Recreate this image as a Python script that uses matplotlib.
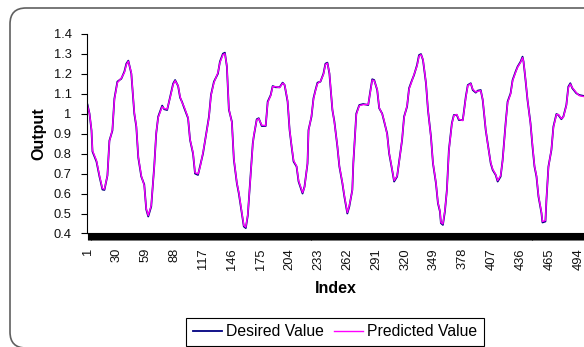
import numpy as np
import matplotlib
matplotlib.use("Agg")
import matplotlib.pyplot as plt
from matplotlib.patches import FancyBboxPatch

plt.rcParams['font.family'] = ['Liberation Sans', 'DejaVu Sans']

# sample index of each reading
index = [1, 3, 5, 6, 10, 13, 16, 18, 21, 23, 26, 28, 31, 35, 38, 40, 42, 45, 48, 50,
         52, 55, 58, 60, 62, 65, 68, 70, 72, 76, 78, 81, 84, 87, 89, 92, 94, 96, 98, 102,
         104, 107, 109, 112, 114, 117, 120, 123, 125, 128, 132, 134, 137, 139, 141, 143, 146, 148, 151, 153,
         156, 158, 160, 162, 164, 167, 168, 171, 173, 176, 180, 182, 185, 187, 190, 194, 197, 199, 202, 204,
         206, 208, 211, 213, 217, 219, 222, 223, 226, 228, 230, 232, 235, 238, 240, 242, 244, 247, 249, 252,
         254, 257, 259, 262, 264, 267, 268, 271, 274, 278, 283, 285, 287, 289, 292, 294, 297, 299, 302, 304,
         307, 309, 312, 314, 317, 319, 322, 324, 327, 329, 332, 334, 336, 338, 341, 343, 346, 348, 351, 353,
         355, 356, 358, 360, 362, 364, 367, 369, 372, 374, 378, 381, 383, 386, 388, 391, 393, 396, 398, 401,
         403, 406, 408, 411, 413, 416, 418, 421, 423, 426, 428, 431, 433, 436, 438, 439, 441, 443, 446, 448,
         450, 452, 454, 457, 458, 461, 462, 464, 467, 469, 472, 474, 477, 479, 482, 484, 486, 488, 492, 495,
         500]

desired = [1.045, 1.00, 0.915, 0.81, 0.76, 0.685, 0.62, 0.618, 0.69, 0.865, 0.915, 1.075, 1.16, 1.175, 1.21, 1.25, 1.265, 1.20, 1.00, 0.935,
           0.78, 0.685, 0.645, 0.52, 0.485, 0.535, 0.735, 0.90, 0.985, 1.04, 1.022, 1.018, 1.085, 1.15, 1.168, 1.138, 1.08, 1.058, 1.03, 0.977,
           0.868, 0.80, 0.70, 0.693, 0.735, 0.80, 0.893, 0.985, 1.093, 1.16, 1.20, 1.26, 1.30, 1.305, 1.235, 1.02, 0.96, 0.77, 0.652, 0.60,
           0.50, 0.435, 0.427, 0.49, 0.635, 0.85, 0.885, 0.972, 0.977, 0.938, 0.938, 1.06, 1.093, 1.138, 1.132, 1.132, 1.155, 1.143, 1.06, 0.918,
           0.835, 0.76, 0.735, 0.66, 0.60, 0.635, 0.75, 0.918, 0.985, 1.077, 1.118, 1.155, 1.16, 1.20, 1.25, 1.255, 1.20, 1.018, 0.96, 0.835,
           0.735, 0.652, 0.585, 0.50, 0.535, 0.618, 0.75, 1.00, 1.043, 1.048, 1.043, 1.11, 1.172, 1.168, 1.118, 1.027, 1.00, 0.96, 0.90, 0.80,
           0.718, 0.66, 0.685, 0.76, 0.868, 0.985, 1.035, 1.127, 1.168, 1.193, 1.243, 1.293, 1.298, 1.268, 1.152, 1.018, 0.885, 0.752, 0.652, 0.552,
           0.51, 0.452, 0.443, 0.51, 0.618, 0.818, 0.952, 0.993, 0.993, 0.968, 0.968, 1.085, 1.143, 1.152, 1.118, 1.105, 1.115, 1.118, 1.068, 0.918,
           0.852, 0.752, 0.718, 0.693, 0.66, 0.685, 0.768, 0.952, 1.06, 1.102, 1.168, 1.21, 1.235, 1.26, 1.285, 1.26, 1.168, 1.068, 0.952, 0.835,
           0.735, 0.685, 0.585, 0.502, 0.455, 0.46, 0.568, 0.735, 0.818, 0.935, 0.998, 0.993, 0.972, 0.985, 1.043, 1.135, 1.152, 1.127, 1.102, 1.093,
           1.088]

predicted = [1.040, 1.00, 0.920, 0.815, 0.765, 0.690, 0.625, 0.622, 0.69, 0.860, 0.920, 1.070, 1.155, 1.178, 1.205, 1.245, 1.262, 1.205, 1.005, 0.940,
             0.785, 0.690, 0.640, 0.525, 0.490, 0.540, 0.730, 0.905, 0.980, 1.035, 1.025, 1.022, 1.080, 1.145, 1.165, 1.140, 1.085, 1.055, 1.035, 0.980,
             0.870, 0.805, 0.705, 0.698, 0.730, 0.805, 0.890, 0.980, 1.090, 1.155, 1.205, 1.255, 1.295, 1.300, 1.240, 1.025, 0.955, 0.775, 0.655, 0.605,
             0.505, 0.440, 0.432, 0.495, 0.630, 0.845, 0.890, 0.968, 0.975, 0.942, 0.940, 1.055, 1.090, 1.135, 1.135, 1.130, 1.152, 1.145, 1.065, 0.922,
             0.838, 0.765, 0.738, 0.665, 0.605, 0.630, 0.755, 0.912, 0.990, 1.072, 1.115, 1.150, 1.162, 1.196, 1.246, 1.252, 1.205, 1.022, 0.955, 0.840,
             0.738, 0.656, 0.590, 0.505, 0.540, 0.615, 0.755, 0.995, 1.040, 1.045, 1.046, 1.105, 1.168, 1.165, 1.122, 1.030, 0.998, 0.965, 0.895, 0.805,
             0.722, 0.665, 0.688, 0.755, 0.872, 0.980, 1.040, 1.122, 1.165, 1.196, 1.238, 1.288, 1.295, 1.272, 1.155, 1.022, 0.880, 0.756, 0.656, 0.556,
             0.515, 0.456, 0.448, 0.515, 0.612, 0.812, 0.948, 0.990, 0.996, 0.972, 0.965, 1.080, 1.140, 1.150, 1.122, 1.108, 1.112, 1.115, 1.072, 0.922,
             0.848, 0.756, 0.722, 0.696, 0.665, 0.690, 0.764, 0.948, 1.055, 1.098, 1.164, 1.206, 1.232, 1.256, 1.280, 1.262, 1.172, 1.072, 0.948, 0.840,
             0.738, 0.690, 0.590, 0.506, 0.460, 0.465, 0.572, 0.730, 0.822, 0.930, 0.995, 0.996, 0.975, 0.982, 1.040, 1.130, 1.148, 1.130, 1.105, 1.090,
             1.085]

n_points = 500
x_tick_labels = [1, 30, 59, 88, 117, 146, 175, 204, 233, 262, 291, 320, 349, 378, 407, 436, 465, 494]
y_ticks = [0.4, 0.5, 0.6, 0.7, 0.8, 0.9, 1.0, 1.1, 1.2, 1.3, 1.4]

fig = plt.figure(figsize=(5.84, 3.47), dpi=100)

# rounded chart border, running off the right and bottom edges
frame = FancyBboxPatch((0.10, -0.01), 6.2, 3.40,
                       boxstyle="round,pad=0,rounding_size=0.16",
                       transform=fig.dpi_scale_trans, facecolor='none',
                       edgecolor='#606060', linewidth=1.2, zorder=0)
fig.patches.append(frame)

ax = fig.add_axes([0.149, 0.3271, 0.8523, 0.5758])
ax.patch.set_alpha(0)

ax.plot(index, desired, color='#000080', linewidth=1.3, label='Desired Value')
ax.plot(index, predicted, color='#FF00FF', linewidth=1.0, label='Predicted Value')

ax.set_xlim(0.5, n_points + 0.5)
ax.set_ylim(0.4, 1.4)

ax.spines['top'].set_visible(False)
ax.spines['right'].set_visible(False)
for s in ['left', 'bottom']:
    ax.spines[s].set_linewidth(0.8)
    ax.spines[s].set_color('black')

ax.set_yticks(y_ticks)
ax.set_yticklabels([f'{v:g}' for v in y_ticks])
ax.tick_params(axis='y', direction='out', length=4, width=0.8, pad=7,
               labelsize=9.3, labelcolor='#111111')

ax.set_xticks(x_tick_labels)
ax.set_xticklabels([str(v) for v in x_tick_labels], rotation=90)
ax.set_xticks(np.arange(1, n_points + 1), minor=True)
ax.tick_params(axis='x', which='both', direction='out', length=5, width=0.8,
               pad=5.5, labelsize=9.3, labelcolor='#111111')

ax.set_xlabel('Index', fontsize=11.5, fontweight='bold', labelpad=8)
ax.set_ylabel('Output', fontsize=11.5, fontweight='bold', labelpad=5)

leg = ax.legend(loc='lower left', bbox_to_anchor=(0.3185, 0.003),
                bbox_transform=fig.transFigure, ncol=2, fontsize=11.3,
                frameon=True, fancybox=False, framealpha=1, edgecolor='black',
                handlelength=1.9, handletextpad=0.25, columnspacing=0.6,
                borderpad=0.42, borderaxespad=0)
leg.get_frame().set_linewidth(0.8)

fig.savefig('out.png', dpi=100)
